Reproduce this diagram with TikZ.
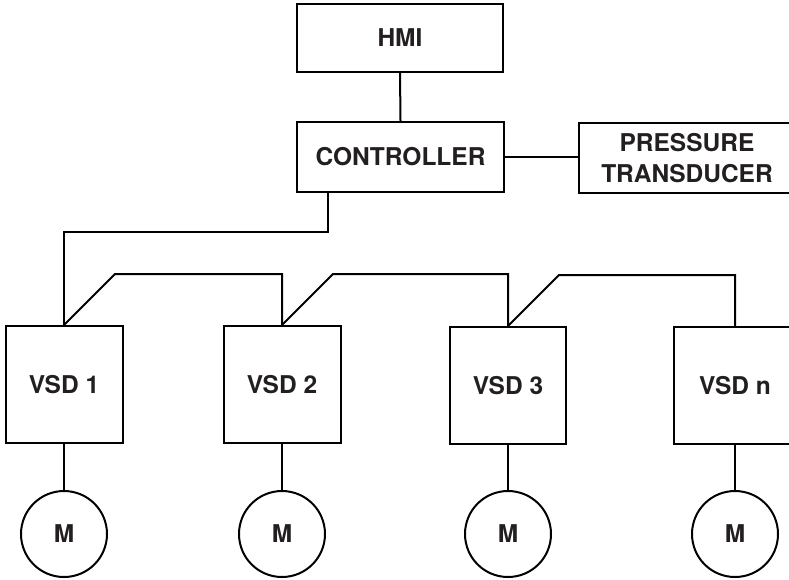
\documentclass[tikz,border=0pt]{standalone}
\usepackage{fontspec}
\setmainfont{TeX Gyre Heros}
\definecolor{txt}{HTML}{231F20}
\begin{document}
\begin{tikzpicture}[x=1pt,y=-1pt,line width=2pt,
  box/.style={draw=black,rectangle,inner sep=0pt,align=center,text=txt,
    font=\fontsize{24.5}{31}\selectfont\bfseries},
  motor/.style={draw=black,circle,minimum size=86pt,inner sep=0pt,text=txt,
    font=\fontsize{24.5}{31}\selectfont\bfseries},
  wire/.style={draw=black,line width=2pt}]
\useasboundingbox (0,0) rectangle (789,579);
\node[box,minimum width=206pt,minimum height=68pt] (hmi) at (400,38) {HMI};
\node[box,minimum width=207pt,minimum height=70pt] (ctrl) at (400.5,157) {CONTROLLER};
\node[box,minimum width=216pt,minimum height=70pt] (pt) at (687,158) {PRESSURE\\TRANSDUCER};
\node[box,minimum width=117pt,minimum height=117pt] (v1) at (64,384.5) {VSD 1};
\node[box,minimum width=117pt,minimum height=117pt] (v2) at (282,384.5) {VSD 2};
\node[box,minimum width=116pt,minimum height=117pt] (v3) at (508,385.5) {VSD 3};
\node[box,minimum width=122pt,minimum height=117pt] (vn) at (735,385.5) {VSD n};
\node[motor] (m1) at (64,534) {M};
\node[motor] (m2) at (282,534) {M};
\node[motor] (m3) at (508,534) {M};
\node[motor] (mn) at (735,534) {M};
\draw[wire] (hmi.south) -- (ctrl.north);
\draw[wire] (ctrl.east) -- (ctrl.east -| pt.west);
\draw[wire] ([xshift=-72.5pt]ctrl.south) -- ++(0,39) -| (v1.north);
\draw[wire] (v1.north) -- ++(51,-51) -| (v2.north);
\draw[wire] (v2.north) -- ++(51,-51) -| (v3.north);
\draw[wire] (v3.north) -- ++(51,-51) -| (vn.north);
\draw[wire] (v1.south) -- (m1.north);
\draw[wire] (v2.south) -- (m2.north);
\draw[wire] (v3.south) -- (m3.north);
\draw[wire] (vn.south) -- (mn.north);
\end{tikzpicture}
\end{document}
